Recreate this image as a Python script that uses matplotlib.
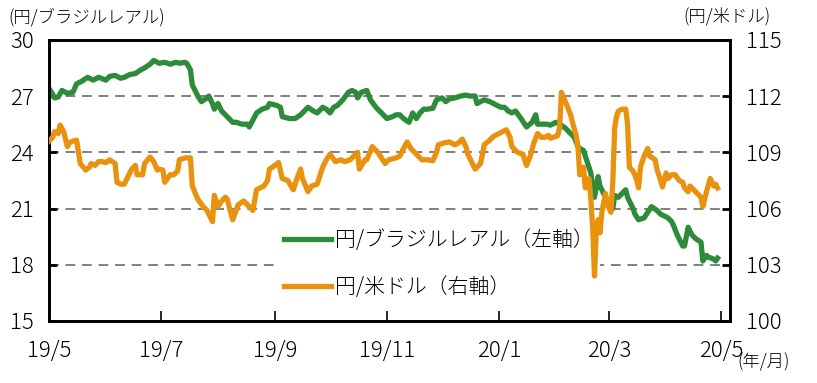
##################
# yen vs BRL / USD
##################

import numpy as np
import pandas as pd
import matplotlib
matplotlib.use('Agg')
import matplotlib.pyplot as plt
import matplotlib.dates as mdates

plt.rcParams['font.family'] = ['Noto Sans CJK JP', 'DejaVu Sans']
plt.rcParams['font.weight'] = 'light'

## data (days counted from 2019-05-01)
brl_days = [0, 2, 3, 5, 7, 10, 13, 15, 18, 21, 24, 27, 31, 33, 36, 39, 41, 44, 47, 50,
            52, 55, 57, 59, 60, 63, 66, 69, 71, 74, 75, 77, 78, 81, 83, 86, 87, 89, 90, 92,
            94, 97, 100, 102, 105, 108, 109, 112, 113, 116, 119, 120, 124, 126, 127, 131, 134, 137, 139, 141,
            144, 146, 149, 151, 153, 155, 157, 160, 163, 165, 167, 168, 170, 173, 175, 178, 180, 182, 184, 187,
            189, 191, 193, 196, 198, 200, 202, 204, 206, 209, 211, 214, 216, 218, 221, 224, 227, 229, 232, 233,
            235, 237, 240, 242, 244, 246, 248, 250, 252, 254, 257, 259, 260, 263, 265, 266, 269, 271, 273, 276,
            278, 281, 284, 286, 288, 289, 291, 293, 295, 296, 297, 299, 300, 302, 303, 305, 307, 308, 310, 311,
            314, 315, 318, 319, 321, 324, 326, 328, 331, 333, 335, 337, 339, 340, 342, 344, 345, 346, 348, 350,
            352, 355, 356, 358, 359, 362, 363, 364]
brl_values = [27.4, 27.1, 26.9, 26.95, 27.3, 27.15, 27.2, 27.65, 27.8, 28.0, 27.85, 28.0, 27.85, 28.05, 28.1, 27.95, 28.0, 28.15, 28.2, 28.4,
              28.5, 28.7, 28.9, 28.8, 28.75, 28.8, 28.7, 28.8, 28.75, 28.8, 28.75, 28.4, 27.6, 27.0, 26.7, 26.9, 27.0, 26.6, 26.3, 26.6,
              26.2, 25.9, 25.6, 25.6, 25.5, 25.5, 25.35, 25.9, 26.1, 26.3, 26.4, 26.6, 26.5, 26.4, 25.9, 25.8, 25.8, 26.0, 26.2, 26.4,
              26.2, 26.1, 26.4, 26.3, 26.1, 26.4, 26.5, 26.8, 27.2, 27.3, 27.2, 26.9, 27.2, 27.3, 26.8, 26.4, 26.2, 26.0, 25.8, 25.9,
              26.0, 26.0, 25.8, 25.6, 26.1, 25.8, 26.1, 26.3, 26.3, 26.35, 26.8, 26.9, 26.7, 26.85, 26.9, 27.0, 27.05, 27.0, 27.0, 26.6,
              26.7, 26.8, 26.7, 26.6, 26.5, 26.4, 26.4, 26.2, 26.1, 26.2, 25.8, 25.5, 25.35, 25.6, 26.0, 25.5, 25.5, 25.5, 25.45, 25.6,
              25.5, 25.3, 25.0, 24.8, 24.3, 24.2, 24.1, 23.5, 22.9, 22.2, 21.6, 22.7, 22.2, 21.8, 21.6, 21.3, 21.0, 21.7, 21.6, 21.7,
              22.0, 21.6, 21.0, 20.7, 20.4, 20.5, 20.8, 21.1, 20.9, 20.7, 20.6, 20.5, 20.3, 20.1, 19.6, 19.2, 19.0, 19.0, 20.0, 19.6,
              19.4, 19.2, 18.2, 18.5, 18.4, 18.3, 18.2, 18.35]

usd_days = [0, 2, 3, 5, 6, 8, 10, 11, 13, 15, 17, 20, 22, 23, 25, 27, 29, 31, 33, 36,
            37, 39, 41, 43, 45, 47, 48, 51, 52, 55, 57, 59, 60, 62, 63, 66, 68, 70, 71, 74,
            77, 78, 81, 84, 86, 88, 89, 90, 92, 94, 96, 97, 100, 103, 106, 108, 111, 113, 117, 119,
            120, 123, 125, 127, 130, 133, 135, 137, 138, 141, 143, 146, 149, 151, 153, 156, 159, 161, 164, 168,
            169, 172, 173, 176, 179, 183, 185, 187, 189, 191, 193, 195, 197, 198, 201, 203, 206, 209, 211, 212,
            215, 218, 221, 223, 225, 227, 228, 230, 232, 235, 237, 240, 242, 245, 247, 249, 251, 252, 254, 255,
            258, 260, 262, 264, 266, 268, 270, 272, 273, 276, 277, 278, 279, 282, 284, 285, 287, 288, 289, 291,
            292, 294, 295, 296, 297, 298, 299, 300, 301, 303, 304, 306, 307, 308, 309, 310, 312, 314, 315, 316,
            318, 319, 320, 321, 322, 324, 326, 327, 330, 331, 333, 334, 336, 337, 339, 341, 343, 345, 346, 348,
            349, 351, 353, 355, 356, 358, 360, 362, 363, 364]
usd_values = [109.6, 109.8, 110.1, 110.0, 110.45, 110.1, 109.3, 109.5, 109.6, 109.65, 108.4, 108.05, 108.2, 108.4, 108.3, 108.5, 108.5, 108.45, 108.6, 108.4,
              107.4, 107.3, 107.3, 107.7, 108.1, 108.3, 107.8, 107.8, 108.4, 108.75, 108.5, 108.05, 108.1, 108.05, 107.4, 107.8, 107.8, 108.0, 108.6, 108.7,
              108.7, 107.2, 106.5, 106.1, 105.9, 105.5, 105.3, 106.7, 106.1, 106.4, 106.6, 106.5, 105.4, 106.2, 106.4, 106.2, 105.9, 107.0, 107.2, 107.5,
              108.1, 108.3, 108.45, 107.6, 107.5, 107.0, 107.6, 108.1, 107.6, 106.9, 107.2, 107.3, 108.2, 108.6, 108.9, 108.5, 108.6, 108.5, 108.6, 109.0,
              108.1, 108.6, 108.6, 109.3, 109.0, 108.4, 108.6, 108.65, 108.7, 108.8, 109.2, 109.55, 109.2, 109.1, 108.8, 108.6, 108.6, 108.55, 109.0, 109.4,
              109.5, 109.55, 109.4, 109.5, 109.7, 109.3, 108.9, 108.5, 108.1, 108.4, 109.4, 109.65, 109.85, 110.0, 110.1, 110.2, 109.8, 109.3, 109.1, 109.0,
              108.9, 108.3, 108.8, 109.5, 110.0, 109.8, 109.8, 109.9, 109.75, 109.85, 109.9, 110.3, 112.2, 111.5, 111.0, 110.6, 109.9, 109.3, 107.8, 108.2,
              107.1, 107.6, 106.5, 105.0, 102.4, 104.8, 105.4, 104.7, 105.8, 106.8, 106.2, 105.8, 107.5, 110.3, 110.9, 111.2, 111.3, 111.3, 110.5, 108.2,
              108.0, 107.8, 107.5, 107.1, 108.2, 108.8, 109.2, 108.8, 108.6, 108.1, 107.5, 107.15, 107.9, 107.6, 107.8, 107.8, 107.5, 107.4, 107.1, 106.9,
              107.2, 107.0, 106.8, 106.6, 106.1, 106.9, 107.6, 107.2, 107.3, 107.1]

tick_months = ['2019-05-01', '2019-07-01', '2019-09-01', '2019-11-01', '2020-01-01', '2020-03-01', '2020-05-01']
tick_labels = ['19/5', '19/7', '19/9', '19/11', '20/1', '20/3', '20/5']

base = pd.Timestamp('2019-05-01')
brl_dates = base + pd.to_timedelta(brl_days, unit='D')
usd_dates = base + pd.to_timedelta(usd_days, unit='D')

green = '#2E8B3A'
orange = '#E8920E'

fig = plt.figure(figsize=(8.17, 3.83), dpi=100)
ax = fig.add_axes([0.060, 0.162, 0.834, 0.734])
ax2 = ax.twinx()

ax.plot(brl_dates, brl_values, color=green, lw=3.8, solid_joinstyle='round',
        label='円/ブラジルレアル（左軸）', zorder=3)
ax2.plot(usd_dates, usd_values, color=orange, lw=3.8, solid_joinstyle='round',
         label='円/米ドル（右軸）', zorder=3)

ax.set_ylim(15, 30)
ax2.set_ylim(100, 115)
ax.set_yticks([15, 18, 21, 24, 27, 30])
ax2.set_yticks([100, 103, 106, 109, 112, 115])
ax.set_xlim(base, base + pd.Timedelta(days=371))
ax.set_xticks(pd.to_datetime(tick_months))
ax.set_xticklabels(tick_labels)

for y in [18, 21, 24, 27]:
    ax.axhline(y, color='#7f7f7f', lw=1.4, ls=(0, (5, 3.5)), zorder=1)

for s in ax.spines.values():
    s.set_linewidth(2)
for s in ax2.spines.values():
    s.set_linewidth(2)

ax.tick_params(axis='x', direction='in', length=7, width=1.2, labelsize=16, pad=14)
ax.tick_params(axis='y', direction='in', length=6, width=2, labelsize=16, pad=11)
ax2.tick_params(axis='y', direction='in', length=6, width=2, labelsize=16, pad=11)

fig.text(0.01, 0.98, '(円/ブラジルレアル)', fontsize=12.5, ha='left', va='top')
fig.text(0.836, 0.98, '(円/米ドル)', fontsize=12.5, ha='left', va='top')
fig.text(0.903, 0.03, '(年/月)', fontsize=12.5, ha='left', va='bottom')

h1, l1 = ax.get_legend_handles_labels()
h2, l2 = ax2.get_legend_handles_labels()
leg = ax2.legend(h1 + h2, l1 + l2, loc='upper left', bbox_to_anchor=(0.335, 0.35),
                 fontsize=15, frameon=True, fancybox=False, edgecolor='none',
                 facecolor='white', framealpha=1, handlelength=2.3, handletextpad=0.15,
                 labelspacing=1.2, borderaxespad=0, borderpad=0.3)
leg.set_zorder(2)  # keep the orange line on top of the legend box

fig.savefig('out.png', dpi=100)
